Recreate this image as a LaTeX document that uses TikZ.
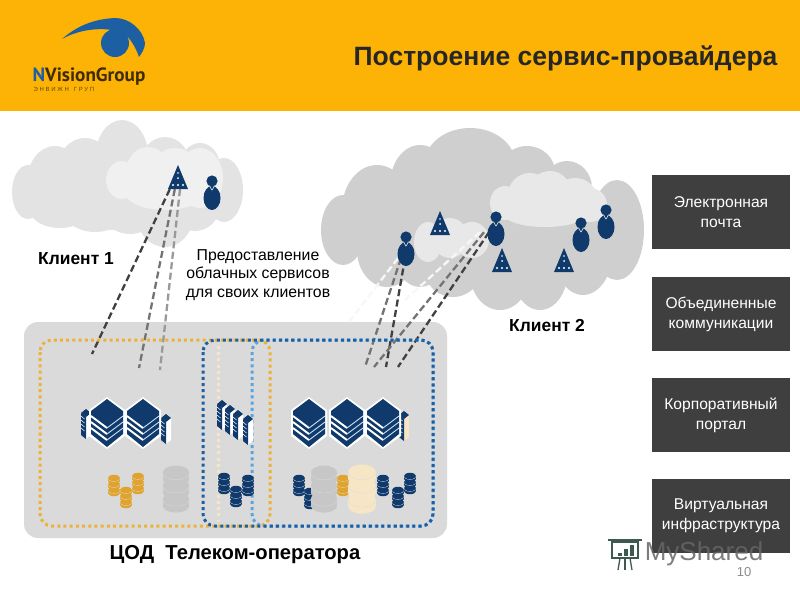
\documentclass[tikz,border=0pt]{standalone}
\usepackage{fontspec}
\setmainfont{Liberation Sans}
\newfontfamily\logofont{PT Sans}
\usetikzlibrary{shapes.geometric}
\definecolor{bannerc}{HTML}{FDB305}
\definecolor{navyc}{HTML}{0F3A6B}
\definecolor{eyec}{HTML}{1C5FA3}
\definecolor{platc}{HTML}{DADADA}
\definecolor{orangec}{HTML}{EDB13A}
\definecolor{goldc}{HTML}{E0A32E}
\definecolor{paleoc}{HTML}{F6E6C6}
\definecolor{bluec}{HTML}{1C5FA3}
\definecolor{skyc}{HTML}{5AA5DE}
\definecolor{boxc}{HTML}{3F3F3F}
\definecolor{markc}{HTML}{3D5A50}
\tikzset{
	svcbox/.style={fill=boxc,text=white,minimum width=138pt,minimum height=74pt,inner sep=0pt,align=center,font=\fontsize{15.6}{20}\selectfont},
	caption/.style={inner sep=0pt,font=\fontsize{17.4}{20}\selectfont\bfseries},
	anchorbox/.style={inner sep=0pt,minimum width=16pt,minimum height=24pt},
	link/.style={line width=2.3pt,dash pattern=on 7pt off 3.5pt},
	zone/.style={line width=3pt,rounded corners=12pt,dash pattern=on 3pt off 3.2pt},
	pics/person/.style={code={
		\fill[navyc] (0,-9) circle (5.6pt);
		\fill[navyc] (0,8) ellipse [x radius=8.5pt,y radius=12pt];
		\draw[white,line width=.5pt] (-2,-3) -- (0,0) -- (2,-3);
	}},
	pics/apex/.style={code={
		\fill[navyc] (0,-12) -- (10,12) -- (-10,12) -- cycle;
		\foreach \dx in {-5,0,5}
			\fill[white] (\dx,8) circle (1.2pt);
		\fill[white] (0,1) circle (1pt);
		\fill[white] (0,-4) circle (.8pt);
	}},
	pics/rack/.style={code={
		\fill[white] (-18,-13) -- (0,-26) -- (18,-13) -- (18,13) -- (0,26) -- (-18,13) -- cycle;
		\fill[navyc] (-16,-12) -- (0,-24) -- (16,-12) -- (16,11) -- (0,24) -- (-16,11) -- cycle;
		\foreach \dy in {5,11,17}{
			\draw[white,line width=1.9pt] (-16,\dy-12) -- (0,\dy);
			\draw[white!70!skyc,line width=.9pt] (0,\dy) -- (16,\dy-12);
		}
	}},
	pics/blade/.style={code={
		\fill[#1] (0,-8) -- (5,-12) -- (5,10) -- (0,14) -- cycle;
		\fill[navyc] (-5,-12) -- (0,-16) -- (5,-12) -- (0,-8) -- cycle;
		\fill[navyc] (-5,-12) -- (0,-8) -- (0,14) -- (-5,10) -- cycle;
		\foreach \dy in {-5,-1,3,7}
			\draw[white,line width=.5pt] (-5,\dy-4) -- (-1.5,\dy-1);
	}},
	pics/dbstack/.style={code={
		\foreach \dy in {6,0,-6}{
			\fill[#1] (-6,\dy-1) rectangle (6,\dy+2);
			\fill[#1] (0,\dy+2) ellipse [x radius=6pt,y radius=3.2pt];
			\draw[platc,line width=.8pt] (-6,\dy-1) arc [start angle=180,end angle=360,x radius=6pt,y radius=3.2pt];
			\fill[#1] (0,\dy-1) ellipse [x radius=6pt,y radius=3.2pt];
		}
	}}
}
\begin{document}
\begin{tikzpicture}[x=1pt,y=-1pt]
	\useasboundingbox (0,0) rectangle (800,600);
	\fill[bannerc] (0,0) rectangle (800,111);

	\fill[eyec] (62,39) .. controls (78,25) and (95,19) .. (115,18) .. controls (130,18) and (143,30) .. (145,43) .. controls (145,48) and (142,53) .. (139,57) .. controls (136,48) and (132,42) .. (128,37) -- (112,30) .. controls (100,28) and (80,29) .. cycle;
	\fill[eyec] (115,43) circle (14pt);
	\node[inner sep=0pt,font=\fontsize{19.2}{22}\logofont\bfseries,text=black!75!bannerc] (logoname) at (89,77) {\textcolor{eyec}{N}VisionGroup};
	\node[inner sep=0pt,font=\fontsize{6}{6}\selectfont,text=black!60!bannerc] (logosub) at (64,89) {Э Н В И Ж Н\ \ \ Г Р У П};
	\node[inner sep=0pt,font=\fontsize{26.5}{28}\selectfont\bfseries,text=black!85] (title) at (565.5,58) {Построение сервис-провайдера};

	\foreach \cx/\cy/\rx/\ry in {28/192/16/27,55/182/28/36,85/170/28/32,122/155/26/35,165/165/25/28,200/167/20/24,224/190/19/32,195/205/25/26,165/216/28/31,130/210/28/24,95/212/30/20,60/210/30/18,120/190/90/40}
		\fill[black!11] (\cx,\cy) ellipse [x radius=\rx pt,y radius=\ry pt];
	\foreach \cx/\cy/\rx/\ry in {122/180/16/19,148/172/22/25,175/168/22/20,200/178/23/30,165/192/40/18}
		\fill[black!6] (\cx,\cy) ellipse [x radius=\rx pt,y radius=\ry pt];

	\foreach \cx/\cy/\rx/\ry in {343/230/22/35,377/210/35/45,420/185/30/40,470/163/45/35,527/172/28/26,567/188/25/27,617/230/27/50,583/250/30/45,540/270/28/40,500/273/30/37,453/265/30/32,420/255/25/32,387/250/30/37,480/220/100/60}
		\fill[black!19] (\cx,\cy) ellipse [x radius=\rx pt,y radius=\ry pt];
	\foreach \cx/\cy/\rx/\ry in {428/242/14/20,450/238/18/20,472/240/17/18}
		\fill[black!9] (\cx,\cy) ellipse [x radius=\rx pt,y radius=\ry pt];
	\foreach \cx/\cy/\rx/\ry in {505/203/15/17,530/195/22/22,550/190/20/19,575/198/22/20,590/205/17/17,545/215/40/12}
		\fill[black!9] (\cx,\cy) ellipse [x radius=\rx pt,y radius=\ry pt];

	\node[caption] (client1) at (76,258.5) {Клиент 1};
	\node[caption] (client2) at (547,326) {Клиент 2};
	\node[inner sep=0pt,align=center,font=\fontsize{15.8}{18.5}\selectfont] (offer) at (258,275) {Предоставление\\облачных сервисов\\для своих клиентов};

	\node[fill=platc,rounded corners=14pt,minimum width=423pt,minimum height=216pt,inner sep=0pt] (platform) at (235.5,430) {};
	\node[caption,font=\fontsize{20.2}{22}\selectfont\bfseries] (dc) at (235,555) {ЦОД\ \ Телеком-оператора};

	\node[anchorbox] (triA) at (178,177) {};
	\node[anchorbox] (triB) at (440,223) {};
	\node[anchorbox] (triC) at (502,260) {};
	\node[anchorbox] (triD) at (564,260) {};
	\node[anchorbox] (userA) at (212,190) {};
	\node[anchorbox] (userB) at (406,246) {};
	\node[anchorbox] (userC) at (496,226) {};
	\node[anchorbox] (userD) at (581,232) {};
	\node[anchorbox] (userE) at (606,219) {};

	\coordinate (endA) at (92,354);
	\coordinate (endB) at (139,368);
	\coordinate (endC) at (160,370);
	\coordinate (endD) at (365,367);
	\coordinate (endE) at (386,367);
	\coordinate (endF) at (374,367);
	\coordinate (endG) at (398,367);
	\coordinate (endH) at (349,322);
	\coordinate (endI) at (405,300);

	\draw[link,black!75] (triA.south west) -- (endA);
	\draw[link,black!55] ([xshift=5pt]triA.south west) -- (endB);
	\draw[link,black!40] ([xshift=2pt]triA.south) -- (endC);
	\draw[link,black!3] ([xshift=-8pt]userB.south) -- (endH);
	\draw[link,black!3] ([xshift=-16pt,yshift=6pt]userC.south) -- (endI);
	\draw[link,black!55] ([xshift=-5pt]userB.south) -- (endD);
	\draw[link,black!75] ([xshift=-1pt]userB.south) -- (endE);
	\draw[link,black!55] ([xshift=-12pt,yshift=6pt]userC.south) -- (endF);
	\draw[link,black!75] ([xshift=-7pt,yshift=6pt]userC.south) -- (endG);

	\foreach \nm in {triA,triB,triC,triD}
		\pic at (\nm) {apex};
	\foreach \nm in {userA,userB,userC,userD,userE}
		\pic at (\nm) {person};

	\draw[zone,orangec] (40,340) rectangle (270,526);
	\draw[paleoc,line width=3pt,dash pattern=on 3pt off 3.2pt] (218,346) -- (218,520);
	\draw[zone,skyc] (252,340) rectangle (433,526);
	\draw[zone,bluec] (203,340) rectangle (433,526);

	\pic at (86,425) {blade=white};
	\pic at (166,430) {blade=white};
	\pic at (107,423) {rack};
	\pic at (143,423) {rack};
	\pic at (222,416) {blade=white};
	\pic at (230,421) {blade=white};
	\pic at (238,426) {blade=white};
	\pic at (248,431) {blade=white};
	\pic at (404,427) {blade=paleoc};
	\pic at (309,423) {rack};
	\pic at (347,423) {rack};
	\pic at (383,423) {rack};

	\pic at (114,485) {dbstack=goldc};
	\pic at (126,497) {dbstack=goldc};
	\pic at (138,483) {dbstack=goldc};
	\pic[scale=2.2] at (176,488) {dbstack=black!22};
	\pic at (224,483) {dbstack=navyc};
	\pic at (236,496) {dbstack=navyc};
	\pic at (248,485) {dbstack=navyc};
	\pic at (299,485) {dbstack=navyc};
	\pic at (310,498) {dbstack=navyc};
	\pic[scale=2.2] at (324,488) {dbstack=black!22};
	\pic at (343,485) {dbstack=goldc};
	\pic[scale=2.3] at (362,488) {dbstack=paleoc};
	\pic at (383,485) {dbstack=navyc};
	\pic at (398,497) {dbstack=navyc};
	\pic at (410,483) {dbstack=navyc};

	\node[svcbox] (mail) at (721,212) {Электронная\\почта};
	\node[svcbox] (comms) at (721,314) {Объединенные\\коммуникации};
	\node[svcbox] (portal) at (721,415) {Корпоративный\\портал};
	\node[svcbox] (cloud) at (721,516) {Виртуальная\\инфраструктура};

	\node[inner sep=0pt,text=black!60,opacity=.85,font=\fontsize{26}{28}\selectfont] (mark) at (704,554) {MyShared};
	\draw[markc,line width=1.3pt] (612,542) rectangle (638,558);
	\draw[markc,line width=2pt] (608,540) -- (642,540);
	\foreach \bx/\bh in {618/3,624/7,630/11}
		\fill[markc] (\bx,556) rectangle (\bx+3.5,556-\bh);
	\draw[markc,line width=1.3pt] (620,558) -- (618,570);
	\draw[markc,line width=1.3pt] (625,558) -- (625,570);
	\draw[markc,line width=1.3pt] (630,558) -- (632,570);
	\node[inner sep=0pt,text=black!45,font=\fontsize{13}{14}\selectfont] (pageno) at (744,572) {10};
\end{tikzpicture}
\end{document}
